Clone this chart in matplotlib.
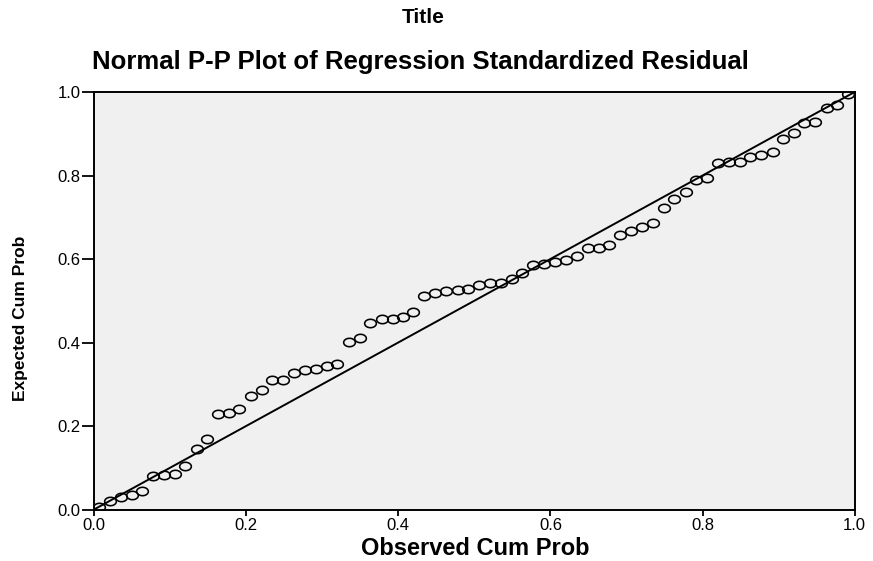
import numpy as np
import matplotlib
matplotlib.use("Agg")
import matplotlib.pyplot as plt
from matplotlib.path import Path

# Observed vs expected cumulative probabilities of the standardized residuals
observed_cum_prob = [
    0.006, 0.021, 0.035, 0.050, 0.063, 0.077, 0.092, 0.107, 0.120, 0.135,
    0.149, 0.163, 0.177, 0.191, 0.206, 0.221, 0.234, 0.249, 0.263, 0.277,
    0.292, 0.306, 0.320, 0.335, 0.350, 0.363, 0.379, 0.393, 0.406, 0.420,
    0.434, 0.448, 0.463, 0.478, 0.492, 0.506, 0.520, 0.535, 0.549, 0.563,
    0.577, 0.592, 0.606, 0.620, 0.635, 0.649, 0.664, 0.677, 0.692, 0.706,
    0.720, 0.735, 0.749, 0.763, 0.778, 0.792, 0.806, 0.820, 0.835, 0.849,
    0.863, 0.877, 0.892, 0.906, 0.920, 0.934, 0.948, 0.963, 0.977, 0.991,
]
expected_cum_prob = [
    0.005, 0.020, 0.029, 0.035, 0.045, 0.080, 0.083, 0.084, 0.103, 0.145,
    0.168, 0.228, 0.232, 0.241, 0.271, 0.287, 0.309, 0.311, 0.328, 0.333,
    0.336, 0.344, 0.348, 0.401, 0.410, 0.447, 0.456, 0.456, 0.462, 0.472,
    0.512, 0.519, 0.524, 0.525, 0.527, 0.537, 0.542, 0.543, 0.553, 0.567,
    0.585, 0.587, 0.593, 0.598, 0.607, 0.626, 0.627, 0.633, 0.657, 0.668,
    0.676, 0.686, 0.721, 0.744, 0.760, 0.789, 0.795, 0.829, 0.832, 0.833,
    0.845, 0.848, 0.856, 0.887, 0.903, 0.926, 0.929, 0.962, 0.969, 0.996,
]
tick_values = [0.0, 0.2, 0.4, 0.6, 0.8, 1.0]
tick_labels = ["0.0", "0.2", "0.4", "0.6", "0.8", "1.0"]

FONT = ["Liberation Sans", "DejaVu Sans"]

# open ellipse marker, a bit wider than tall
t = np.linspace(0, 2 * np.pi, 60)
ellipse = Path(np.column_stack([np.cos(t), 0.72 * np.sin(t)]), closed=True)

fig = plt.figure(figsize=(8.73, 5.61), dpi=100)
fig.patch.set_facecolor("white")
ax = fig.add_axes([0.1077, 0.0918, 0.8713, 0.7442])
ax.set_facecolor("#f0f0f0")

ax.plot([0, 1], [0, 1], color="black", linewidth=1.4, zorder=2)
ax.plot(observed_cum_prob, expected_cum_prob, linestyle="none",
        marker=ellipse, markersize=8.4, markerfacecolor="none",
        markeredgecolor="black", markeredgewidth=1.15, zorder=3)

ax.set_xlim(0, 1)
ax.set_ylim(0, 1)
ax.set_xticks(tick_values)
ax.set_xticklabels(tick_labels)
ax.set_yticks(tick_values)
ax.set_yticklabels(tick_labels)
ax.tick_params(direction="out", width=1.3, colors="black", labelsize=12)
ax.tick_params(axis="x", length=4.5, pad=1.5)
ax.tick_params(axis="y", length=8.5, pad=1)
for lab in ax.get_xticklabels() + ax.get_yticklabels():
    lab.set_family(FONT)
for sp in ax.spines.values():
    sp.set_linewidth(1.4)
    sp.set_color("black")

fig.text(0.544, 0.0214, "Observed Cum Prob", ha="center", va="center",
         fontsize=17, fontweight="bold", family=FONT)
fig.text(0.024, 0.433, "Expected Cum Prob", ha="center", va="center",
         rotation=90, fontsize=12.5, fontweight="bold", family=FONT)

fig.text(0.485, 0.968, "Title", ha="center", va="center", fontsize=15,
         fontweight="bold", family=FONT)
fig.text(0.482, 0.889, "Normal P-P Plot of Regression Standardized Residual",
         ha="center", va="center", fontsize=18.5, fontweight="bold",
         family=FONT)

fig.savefig("out.png", dpi=100, facecolor="white")
